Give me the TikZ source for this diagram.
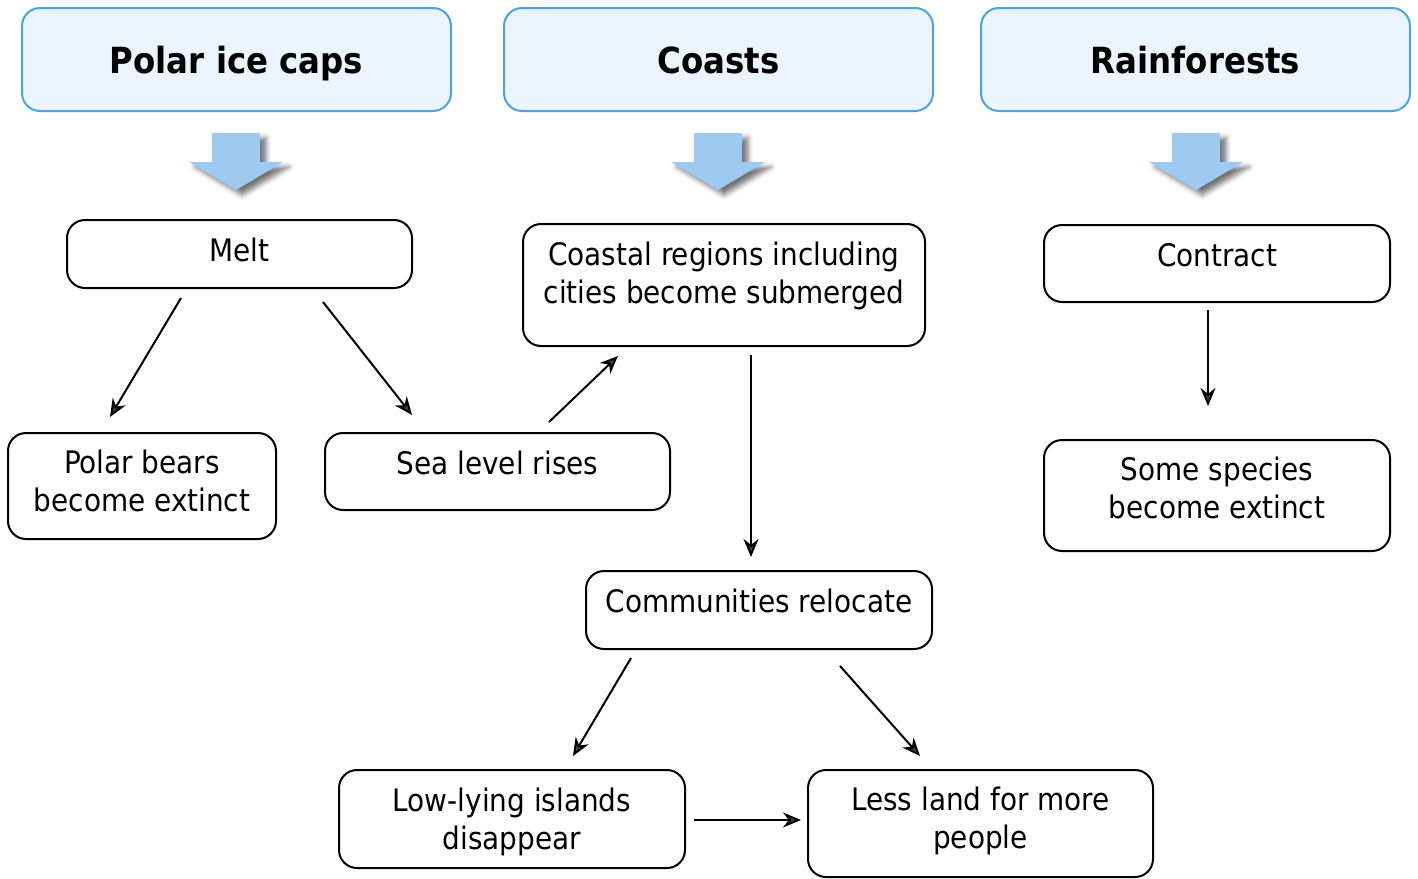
\documentclass[tikz,border=0pt]{standalone}
\usepackage{fontspec}
\setmainfont{DejaVu Sans Condensed}
\usetikzlibrary{positioning,arrows.meta,shadows.blur}
\definecolor{HeadFill}{RGB}{235,244,252}
\definecolor{HeadLine}{RGB}{72,164,230}
\definecolor{DropBlue}{RGB}{158,202,242}

\begin{document}
\begin{tikzpicture}[x=0.5pt,y=-0.5pt,
hd/.style={draw=HeadLine,fill=HeadFill,line width=1pt,rounded corners=9pt,minimum width=214.5pt,minimum height=51.5pt,text height=16pt,text depth=2pt,font=\fontsize{18}{21}\selectfont\bfseries},
bx/.style={draw,line width=1pt,rounded corners=9pt,align=center,inner sep=0pt,font=\fontsize{15.5}{19}\selectfont},
arr/.style={-{Stealth[length=9pt,width=7.5pt]},line width=1pt},
drop/.style={fill=DropBlue,blur shadow={shadow xshift=3pt,shadow yshift=-2.5pt,shadow blur radius=2.5pt,shadow opacity=55}}
]
\useasboundingbox (0,0) rectangle (1418,878);
% headers
\node[hd] (polar) at (236.5,59.5) {Polar ice caps};
\node[hd] (coasts) at (718.5,59.5) {Coasts};
\node[hd] (rain) at (1195.5,59.5) {Rainforests};
% block arrows
\foreach \cx in {236,718,1196}
  \path[drop] (\cx-24,133) -- (\cx+24,133) -- (\cx+24,162) -- (\cx+47,162) -- (\cx,190) -- (\cx-47,162) -- (\cx-24,162) -- cycle;
% boxes
\node[bx,minimum width=172.5pt,minimum height=34pt,text depth=4.2pt] (melt) at (239.5,254) {Melt};
\node[bx,minimum width=134pt,minimum height=53pt,text depth=5.2pt] (bears) at (142,486) {Polar bears\\become extinct};
\node[bx,minimum width=172.5pt,minimum height=38.5pt,text depth=9.2pt] (sea) at (497.5,471.5) {Sea level rises};
\node[bx,minimum width=201pt,minimum height=61pt,text depth=12.7pt] (coastal) at (724,285) {Coastal regions including\\cities become submerged};
\node[bx,minimum width=173pt,minimum height=39pt,text depth=9.2pt] (comm) at (759,610) {Communities relocate};
\node[bx,minimum width=173pt,minimum height=49pt,text depth=0.7pt] (low) at (512,819) {Low-lying islands\\disappear};
\node[bx,minimum width=172.5pt,minimum height=53.5pt,text depth=5.7pt] (less) at (980.5,823.5) {Less land for more\\people};
\node[bx,minimum width=173pt,minimum height=38.5pt,text depth=8.2pt] (contract) at (1217,263.5) {Contract};
\node[bx,minimum width=173pt,minimum height=55.5pt,text depth=8.2pt] (species) at (1217,495.5) {Some species\\become extinct};
% connectors
\draw[arr] ([xshift=-29.25pt,yshift=-4.5pt]melt.south) -- ([xshift=-16pt,yshift=7.5pt]bears.north);
\draw[arr] ([xshift=41.75pt,yshift=-6.5pt]melt.south) -- ([xshift=-42.75pt,yshift=8.5pt]sea.north);
\draw[arr] ([xshift=25.75pt,yshift=5pt]sea.north) -- ([xshift=-53pt,yshift=-4.5pt]coastal.south);
\draw[arr] ([xshift=13.5pt,yshift=-4pt]coastal.south) -- ([xshift=-4pt,yshift=6.5pt]comm.north);
\draw[arr] ([xshift=-64pt,yshift=-4pt]comm.south) -- ([xshift=30.5pt,yshift=6.5pt]low.north);
\draw[arr] ([xshift=40.5pt,yshift=-8pt]comm.south) -- ([xshift=-30.25pt,yshift=6.5pt]less.north);
\draw[arr] ([xshift=4pt,yshift=-0.5pt]low.east) -- ([xshift=-3pt,yshift=1.75pt]less.west);
\draw[arr] ([xshift=-4.5pt,yshift=-3.5pt]contract.south) -- ([xshift=-4.5pt,yshift=16.5pt]species.north);
\end{tikzpicture}
\end{document}
